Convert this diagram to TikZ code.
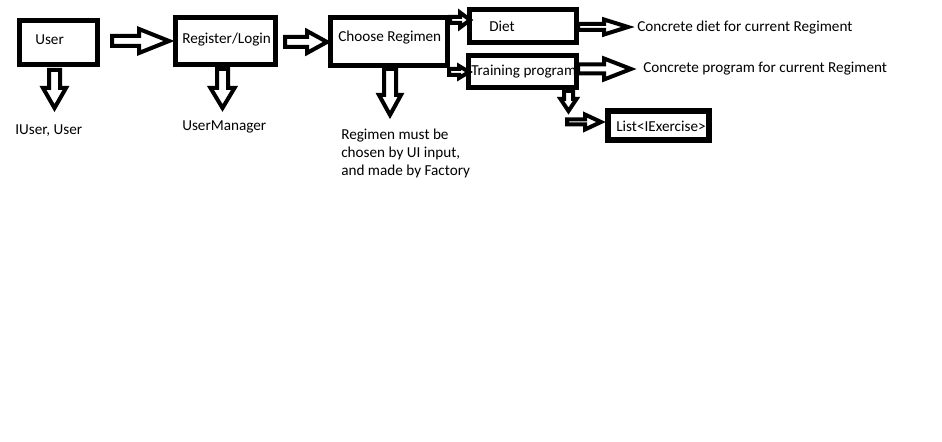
\documentclass[tikz,border=0pt]{standalone}
\usepackage{fontspec}
\setmainfont{Carlito}
\newcommand\rarr[6]{\draw[barrow] (#1,#4-#5) -- (#2,#4-#5) -- (#2,#4-#6) -- (#3,#4) -- (#2,#4+#6) -- (#2,#4+#5) -- (#1,#4+#5) -- cycle;}
\newcommand\darr[6]{\draw[barrow] (#1-#5,#2) -- (#1-#5,#3) -- (#1-#6,#3) -- (#1,#4) -- (#1+#6,#3) -- (#1+#5,#3) -- (#1+#5,#2) -- cycle;}
\begin{document}
\begin{tikzpicture}[x=0.75pt,y=-0.75pt,
  box/.style={draw=black,line width=3.4pt},
  barrow/.style={draw=black,fill=white,line width=3pt},
  txt/.style={anchor=west,inner sep=0pt,font=\fontsize{11.4pt}{13.5pt}\selectfont,text=black}]
\fill[white] (0,0) rectangle (942,442);
\useasboundingbox (0,0) rectangle (942,442);
% boxes
\draw[box] (19.5,20.5) rectangle (97.5,64.5);
\draw[box] (175.5,17.5) rectangle (275.5,64.5);
\draw[box] (330.5,17.5) rectangle (447.5,65.5);
\draw[box] (469.5,9.5) rectangle (576.5,42.5);
\draw[box] (468.5,55.5) rectangle (576.5,87.5);
\draw[box,line width=4.5pt] (608,111) rectangle (709,140);
% labels in boxes
\node[txt] (user) at (35,40) {User};
\node[txt] (reg) at (182,40) {Register/Login};
\node[txt] (choose) at (338,38) {Choose Regimen};
\node[txt] (diet) at (489,26) {Diet};
\node[txt] (train) at (471,72) {Training program};
\node[txt] (list) at (616,126) {List<IExercise>};
% free labels
\node[txt] (iuser) at (15,131) {IUser, User};
\node[txt] (um) at (182,127) {UserManager};
\node[txt,anchor=north west,align=left] (regnote) at (341,129) {Regimen must be\\chosen by UI input,\\and made by Factory};
\node[txt] (cdiet) at (637,28) {Concrete diet for current Regiment};
\node[txt] (cprog) at (643,69) {Concrete program for current Regiment};
% block arrows
\rarr{112}{139}{169}{41}{5}{12}
\rarr{285}{307}{327}{42}{5}{11}
\rarr{450}{460}{470}{20}{3}{7.5}
\rarr{449}{459}{469}{72}{3}{6}
\rarr{578}{604}{628}{27}{3}{7.5}
\rarr{578}{604}{631}{69}{4.5}{10.5}
\darr{54.5}{70}{88}{108}{5.5}{11.5}
\darr{222.5}{69}{88}{108}{5.5}{12}
\darr{390}{69}{95}{115}{6}{11}
\darr{568.5}{91}{99}{111}{4.5}{8}
\rarr{567}{585}{601}{122}{2.5}{7.5}
\end{tikzpicture}
\end{document}
